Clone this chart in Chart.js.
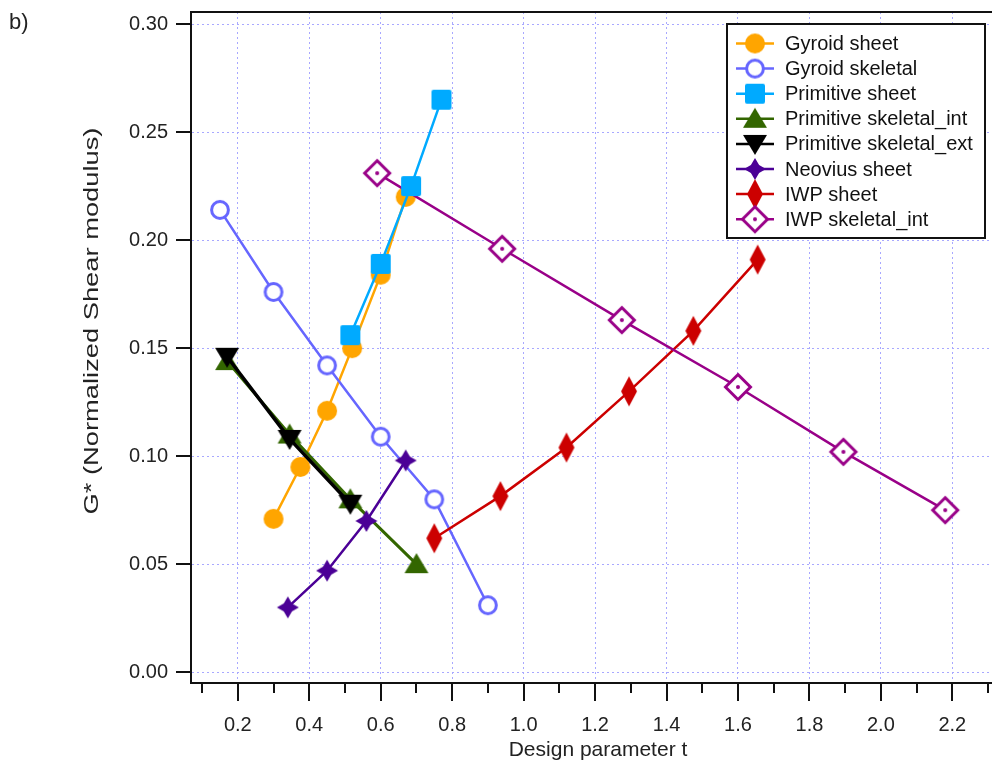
<!DOCTYPE html>
<html>
<head>
<meta charset="utf-8">
<title>G* vs design parameter t</title>
<script src="https://cdn.jsdelivr.net/npm/chart.js@4.4.1/dist/chart.umd.min.js"></script>
<style>
  html, body { margin: 0; padding: 0; background: #fff; }
</style>
</head>
<body>
<canvas id="chart" width="992" height="769"></canvas>
<script>
// ---- data ----
const seriesNames = ['Gyroid sheet', 'Gyroid skeletal', 'Primitive sheet', 'Primitive skeletal_int',
  'Primitive skeletal_ext', 'Neovius sheet', 'IWP sheet', 'IWP skeletal_int'];

const gyroidSheetT = [0.30, 0.375, 0.45, 0.52, 0.60, 0.67];
const gyroidSheetG = [0.071, 0.095, 0.121, 0.150, 0.184, 0.220];

const gyroidSkelT = [0.15, 0.30, 0.45, 0.60, 0.75, 0.90];
const gyroidSkelG = [0.214, 0.176, 0.142, 0.109, 0.080, 0.031];

const primSheetT = [0.515, 0.60, 0.685, 0.77];
const primSheetG = [0.156, 0.189, 0.225, 0.265];

const primSkelIntT = [0.17, 0.345, 0.515, 0.70];
const primSkelIntG = [0.144, 0.110, 0.080, 0.050];

const primSkelExtT = [0.17, 0.345, 0.515];
const primSkelExtG = [0.146, 0.108, 0.078];

const neoviusT = [0.34, 0.45, 0.56, 0.67];
const neoviusG = [0.030, 0.047, 0.070, 0.098];

const iwpSheetT = [0.75, 0.935, 1.12, 1.295, 1.475, 1.655];
const iwpSheetG = [0.062, 0.0815, 0.104, 0.130, 0.158, 0.191];

const iwpSkelT = [0.59, 0.94, 1.275, 1.60, 1.895, 2.18];
const iwpSkelG = [0.231, 0.196, 0.163, 0.132, 0.102, 0.075];

const xMajorTicks = [0.2, 0.4, 0.6, 0.8, 1.0, 1.2, 1.4, 1.6, 1.8, 2.0, 2.2];
const xMinorTicks = [0.1, 0.3, 0.5, 0.7, 0.9, 1.1, 1.3, 1.5, 1.7, 1.9, 2.1, 2.3];
const yTicks = [0, 0.05, 0.10, 0.15, 0.20, 0.25, 0.30];

// ---- styles ----
const FONT = '"Liberation Sans", Arial, sans-serif';
const colors = ['#ffa500', '#6666ff', '#00aaff', '#336600', '#000000', '#4b0096', '#cc0000', '#990088'];
const shapes = ['circleFill', 'circleOpen', 'square', 'triUp', 'triDown', 'star4', 'diamondTall', 'diamondOpen'];
const lineWidths = [2.5, 2.5, 2.5, 3, 3.5, 2.5, 2.5, 2.5];
const drawOrder = [9, 8, 0, 7, 6, 5, 4, 3]; // lower = on top

function makeMarker(kind, color) {
  const c = document.createElement('canvas');
  c.width = 34; c.height = 34;
  const g = c.getContext('2d');
  g.translate(17, 17);
  g.fillStyle = color;
  g.strokeStyle = color;
  g.beginPath();
  if (kind === 'circleFill') {
    g.arc(0, 0, 10, 0, Math.PI * 2); g.fill();
  } else if (kind === 'circleOpen') {
    g.arc(0, 0, 8.4, 0, Math.PI * 2);
    g.fillStyle = '#fff'; g.fill();
    g.lineWidth = 3; g.stroke();
  } else if (kind === 'square') {
    g.roundRect(-10, -10, 20, 20, 2); g.fill();
  } else if (kind === 'triUp') {
    g.moveTo(0, -11); g.lineTo(12, 9); g.lineTo(-12, 9); g.closePath(); g.fill();
  } else if (kind === 'triDown') {
    g.moveTo(0, 11); g.lineTo(12, -9); g.lineTo(-12, -9); g.closePath(); g.fill();
  } else if (kind === 'star4') {
    for (let i = 0; i < 8; i++) {
      const a = -Math.PI / 2 + i * Math.PI / 4;
      const r = i % 2 === 0 ? 11 : 5.8;
      const px = Math.cos(a) * r, py = Math.sin(a) * r;
      i === 0 ? g.moveTo(px, py) : g.lineTo(px, py);
    }
    g.closePath(); g.fill();
  } else if (kind === 'diamondTall') {
    g.moveTo(0, -15); g.lineTo(8, 0); g.lineTo(0, 15); g.lineTo(-8, 0); g.closePath(); g.fill();
  } else if (kind === 'diamondOpen') {
    g.moveTo(0, -12.5); g.lineTo(12.5, 0); g.lineTo(0, 12.5); g.lineTo(-12.5, 0); g.closePath();
    g.fillStyle = '#fff'; g.fill();
    g.lineWidth = 3; g.stroke();
    g.beginPath(); g.arc(0, 0, 2, 0, Math.PI * 2); g.fillStyle = color; g.fill();
  }
  return c;
}

const markers = shapes.map((s, i) => makeMarker(s, colors[i]));

const seriesT = [gyroidSheetT, gyroidSkelT, primSheetT, primSkelIntT, primSkelExtT, neoviusT, iwpSheetT, iwpSkelT];
const seriesG = [gyroidSheetG, gyroidSkelG, primSheetG, primSkelIntG, primSkelExtG, neoviusG, iwpSheetG, iwpSkelG];

const datasets = seriesNames.map((name, i) => ({
  label: name,
  data: seriesT[i].map((t, k) => ({ x: t, y: seriesG[i][k] })),
  borderColor: colors[i],
  backgroundColor: colors[i],
  borderWidth: lineWidths[i],
  pointStyle: markers[i],
  pointRadius: 10,
  tension: 0,
  order: drawOrder[i]
}));

// no automatic label padding, the plot box is fixed
function fixBox(s) {
  s.paddingTop = 0; s.paddingBottom = 0; s.paddingLeft = 0; s.paddingRight = 0;
}

// extra drawing: frame, tick marks, legend, titles
const decor = {
  id: 'decor',
  afterDraw(chart) {
    const ctx = chart.ctx;
    const ca = chart.chartArea;
    const xs = chart.scales.x, ys = chart.scales.y;
    ctx.save();
    ctx.strokeStyle = '#111';
    ctx.lineWidth = 2;
    // top frame
    ctx.beginPath();
    ctx.moveTo(ca.left - 1, ca.top); ctx.lineTo(ca.right, ca.top);
    ctx.stroke();
    // x tick marks
    ctx.beginPath();
    xMajorTicks.forEach(v => {
      const px = Math.round(xs.getPixelForValue(v));
      ctx.moveTo(px, ca.bottom); ctx.lineTo(px, ca.bottom + 18);
    });
    xMinorTicks.forEach(v => {
      const px = Math.round(xs.getPixelForValue(v));
      ctx.moveTo(px, ca.bottom); ctx.lineTo(px, ca.bottom + 10);
    });
    // y tick marks
    yTicks.forEach(v => {
      const py = Math.round(ys.getPixelForValue(v));
      ctx.moveTo(ca.left, py); ctx.lineTo(ca.left - 15, py);
    });
    ctx.stroke();

    // legend
    const lx = 727, ly = 24, lw = 258, lh = 214;
    ctx.fillStyle = '#fff';
    ctx.fillRect(lx, ly, lw, lh);
    ctx.lineWidth = 2;
    ctx.strokeStyle = '#111';
    ctx.strokeRect(lx, ly, lw, lh);
    ctx.font = '20px ' + FONT;
    ctx.textBaseline = 'middle';
    ctx.textAlign = 'left';
    seriesNames.forEach((name, i) => {
      const ry = 43.5 + i * 25.1;
      ctx.beginPath();
      ctx.strokeStyle = colors[i];
      ctx.lineWidth = 2.5;
      ctx.moveTo(736, ry); ctx.lineTo(774, ry);
      ctx.stroke();
      const m = markers[i];
      ctx.drawImage(m, 755 - m.width / 2, ry - m.height / 2);
      ctx.fillStyle = '#111';
      ctx.fillText(name, 785, ry + 1);
    });

    // axis titles and panel label
    ctx.fillStyle = '#222';
    ctx.font = '21px ' + FONT;
    ctx.textAlign = 'center';
    ctx.fillText('Design parameter t', 598, 750);
    ctx.save();
    ctx.translate(92, 321);
    ctx.rotate(-Math.PI / 2);
    ctx.scale(1.3, 1);
    ctx.font = '21px ' + FONT;
    ctx.fillText('G* (Normalized Shear modulus)', 0, 0);
    ctx.restore();
    ctx.textAlign = 'left';
    ctx.font = '22px ' + FONT;
    ctx.fillText('b)', 9, 23);
    ctx.restore();
  }
};

new Chart(document.getElementById('chart'), {
  type: 'line',
  data: { datasets },
  options: {
    responsive: false,
    animation: false,
    layout: { autoPadding: false, padding: { top: 12, right: 0, left: 0, bottom: 0 } },
    plugins: { legend: { display: false }, tooltip: { enabled: false } },
    scales: {
      x: {
        type: 'linear',
        min: 0.069,
        max: 2.311,
        afterBuildTicks: s => { s.ticks = xMajorTicks.map(v => ({ value: v })); },
        afterFit: s => { s.height = 86; fixBox(s); },
        grid: { color: '#a8a8ff', lineWidth: 1, drawTicks: false },
        border: { display: true, color: '#111', width: 2, dash: [2, 3] },
        ticks: {
          autoSkip: false, maxRotation: 0, padding: 30,
          color: '#222', font: { family: FONT, size: 20 },
          callback: v => v.toFixed(1)
        }
      },
      y: {
        type: 'linear',
        min: -0.005,
        max: 0.3056,
        afterBuildTicks: s => { s.ticks = yTicks.map(v => ({ value: v })); },
        afterFit: s => { s.width = 191; fixBox(s); },
        grid: { color: '#a8a8ff', lineWidth: 1, drawTicks: false },
        border: { display: true, color: '#111', width: 2, dash: [2, 3] },
        ticks: {
          padding: 23,
          color: '#222', font: { family: FONT, size: 20 },
          callback: v => v.toFixed(2)
        }
      }
    }
  },
  plugins: [decor]
});
</script>
</body>
</html>
